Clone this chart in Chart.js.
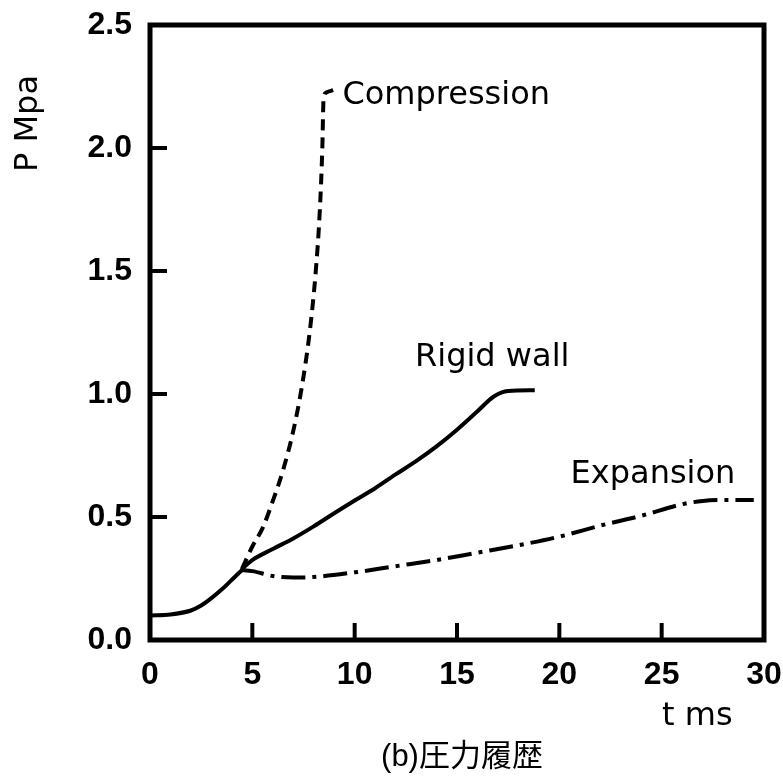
<!DOCTYPE html>
<html>
<head>
<meta charset="utf-8">
<script src="https://cdn.jsdelivr.net/npm/chart.js@4"></script>
<style>
  html, body { margin: 0; padding: 0; background: #fff; }
  #wrap { width: 783px; height: 778px; }
</style>
</head>
<body>
<div id="wrap"><canvas id="chart" width="783" height="778"></canvas></div>
<script>
// --- data (t in ms, P in MPa) ---
const baseT = [0, 1, 2, 2.5, 3, 3.5, 4, 4.5];
const baseP = [0.1, 0.104, 0.12, 0.14, 0.17, 0.205, 0.245, 0.285];

const rigidT = [4.5, 5, 6, 7, 8, 9, 10, 11, 12, 13, 14, 15, 16, 16.8, 17.5, 18.8];
const rigidP = [0.29, 0.325, 0.37, 0.413, 0.462, 0.515, 0.567, 0.617, 0.673, 0.727, 0.787, 0.855, 0.93, 0.99, 1.012, 1.015];

const compT = [4.5, 5, 5.5, 6, 6.5, 7, 7.4, 7.8, 8.1, 8.3, 8.42, 8.48, 8.6, 8.95];
const compP = [0.29, 0.38, 0.455, 0.565, 0.69, 0.85, 1.02, 1.25, 1.5, 1.75, 2.0, 2.2, 2.225, 2.235];

const expT = [4.4, 5, 6, 7, 8, 10, 12, 14, 16, 18, 20, 22, 24, 26, 27, 28, 29.5];
const expP = [0.285, 0.28, 0.26, 0.254, 0.256, 0.275, 0.3, 0.325, 0.355, 0.385, 0.42, 0.465, 0.505, 0.552, 0.565, 0.569, 0.569];

const xTicks = [0, 5, 10, 15, 20, 25, 30];
const yTicks = [0, 0.5, 1.0, 1.5, 2.0, 2.5];

// curve labels, anchored in data units (left edge / baseline)
const curveLabels = [
    { text: 'Compression', t: 9.4, p: 2.18 },
    { text: 'Rigid wall', t: 12.95, p: 1.115 },
    { text: 'Expansion', t: 20.55, p: 0.64 }
];

const toPts = (ts, ps) => ts.map((t, i) => ({ x: t, y: ps[i] }));

const labelFont = '"DejaVu Sans", sans-serif';

// frame, inward ticks and free text
const decorations = {
    id: 'decorations',
    afterDraw(chart) {
        const { ctx, chartArea: a, scales } = chart;
        ctx.save();
        ctx.strokeStyle = '#000';
        ctx.lineCap = 'butt';

        // inward tick marks
        ctx.lineWidth = 4;
        xTicks.forEach(v => {
            const px = scales.x.getPixelForValue(v);
            ctx.beginPath();
            ctx.moveTo(px, a.bottom);
            ctx.lineTo(px, a.bottom - 17);
            ctx.stroke();
        });
        yTicks.forEach(v => {
            const py = scales.y.getPixelForValue(v);
            ctx.beginPath();
            ctx.moveTo(a.left, py);
            ctx.lineTo(a.left + 17, py);
            ctx.stroke();
        });

        // box
        ctx.lineWidth = 5;
        ctx.strokeRect(a.left, a.top, a.right - a.left, a.bottom - a.top);

        // curve names
        ctx.fillStyle = '#000';
        ctx.font = '32px ' + labelFont;
        ctx.textAlign = 'left';
        ctx.textBaseline = 'alphabetic';
        curveLabels.forEach(l => {
            ctx.fillText(l.text, scales.x.getPixelForValue(l.t), scales.y.getPixelForValue(l.p));
        });

        // axis titles
        ctx.fillText('t ms', 662, 725);
        ctx.save();
        ctx.translate(37, 172);
        ctx.rotate(-Math.PI / 2);
        ctx.fillText('P Mpa', 0, 0);
        ctx.restore();

        // caption
        ctx.font = '31px "Liberation Sans", "Noto Sans CJK JP", sans-serif';
        ctx.textAlign = 'center';
        ctx.fillText('(b)圧力履歴', (a.left + a.right) / 2 + 5, 766);
        ctx.restore();
    }
};

const tickFont = { family: '"Liberation Sans", Arial, sans-serif', size: 32, weight: 'bold' };
const common = { showLine: true, pointRadius: 0, borderColor: '#000', borderWidth: 4, fill: false, cubicInterpolationMode: 'monotone' };

new Chart(document.getElementById('chart').getContext('2d'), {
    type: 'scatter',
    data: {
        datasets: [
            { ...common, label: 'base', data: toPts(baseT, baseP) },
            { ...common, label: 'Rigid wall', data: toPts(rigidT, rigidP) },
            { ...common, label: 'Compression', data: toPts(compT, compP), borderDash: [11, 7] },
            { ...common, label: 'Expansion', data: toPts(expT, expP), borderDash: [24, 7, 4, 7] }
        ]
    },
    options: {
        responsive: false,
        animation: false,
        layout: { padding: { top: 25, right: 19, bottom: 0, left: 0 } },
        plugins: { legend: { display: false }, tooltip: { enabled: false } },
        scales: {
            x: {
                type: 'linear', min: 0, max: 30,
                afterBuildTicks: s => { s.ticks = xTicks.map(v => ({ value: v })); },
                afterFit: s => {
                    s.height = 138;
                    s.paddingLeft = 0; s.paddingRight = 0;
                },
                grid: { display: false, drawTicks: false },
                border: { display: false },
                ticks: { color: '#000', font: tickFont, padding: 16, maxRotation: 0, autoSkip: false }
            },
            y: {
                type: 'linear', min: 0, max: 2.5,
                afterBuildTicks: s => { s.ticks = yTicks.map(v => ({ value: v })); },
                afterFit: s => {
                    s.width = 150;
                    s.paddingTop = 0; s.paddingBottom = 0;
                },
                grid: { display: false, drawTicks: false },
                border: { display: false },
                ticks: { color: '#000', font: tickFont, padding: 18, callback: v => v.toFixed(1) }
            }
        }
    },
    plugins: [decorations]
});
</script>
</body>
</html>
